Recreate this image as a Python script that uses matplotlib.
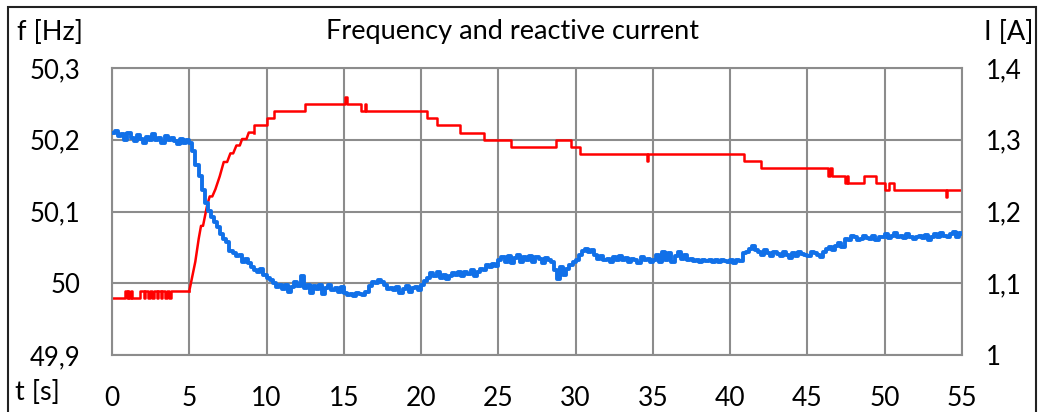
import numpy as np
import matplotlib.pyplot as plt
from matplotlib.patches import Rectangle

plt.rcParams['font.family'] = ['Lato', 'DejaVu Sans']

# frequency, one sample every 0.2 s, stored as offset from 50 Hz in mHz
f_dt = 0.2
f_dev_mhz = [
    210, 212, 205, 208, 200, 210, 203, 198, 207, 201,   # 0-2 s
    195, 204, 200, 208, 199, 202, 196, 205, 200, 203,   # 2-4 s
    198, 194, 201, 196, 199,                             # 4-5 s
    195, 185, 165, 150, 130, 112, 100, 92, 85, 78,       # 5-7 s
    68, 62, 58, 45, 42, 38, 40, 30, 34, 28,              # 7-9 s
    22, 18, 15, 20, 12,                                  # 9-10 s
    8, 4, 0, -5, -2, -8, -3, -12, -5, 2,                 # 10-12 s
    -4, 10, -6, -2, -14, -4, -8, -3, -15, -6,            # 12-14 s
    -3, -10, -6, -12, -5,                                # 14-15 s
    -14, -16, -15, -18, -14, -15, -16, -12, -4, 2,       # 15-17 s
    0, 5, 2, -3, -8, -6, -10, -5, -14, -8,               # 17-19 s
    -4, -12, -7, -5, -10,                                # 19-20 s
    -2, 3, 8, 14, 10, 15, 8, 12, 6, 10,                  # 20-22 s
    14, 12, 16, 10, 15, 13, 18, 10, 16, 20,              # 22-24 s
    18, 25, 22, 27, 24,                                  # 24-25 s
    32, 36, 30, 38, 28, 35, 40, 30, 36, 33,              # 25-27 s
    38, 30, 36, 34, 28, 35, 32, 30, 18, 6,               # 27-29 s
    22, 12, 20, 26, 30,                                  # 29-30 s
    32, 40, 45, 48, 44, 46, 40, 34, 38, 32,              # 30-32 s
    34, 30, 36, 33, 38, 32, 35, 30, 34, 33,              # 32-34 s
    28, 36, 32, 34, 30,                                  # 34-35 s
    33, 40, 30, 44, 32, 42, 30, 38, 44, 34,              # 35-37 s
    40, 32, 34, 31, 33, 30, 32, 31, 33, 30,              # 37-39 s
    32, 29, 33, 31, 30,                                  # 39-40 s
    32, 28, 33, 31, 42, 44, 48, 52, 46, 44,              # 40-42 s
    40, 46, 42, 38, 44, 41, 38, 44, 40, 35,              # 42-44 s
    42, 38, 44, 41, 40,                                  # 44-45 s
    38, 44, 42, 40, 37, 44, 48, 50, 46, 52,              # 45-47 s
    56, 50, 62, 60, 66, 64, 60, 62, 66, 63,              # 47-49 s
    62, 66, 60, 64, 65,                                  # 49-50 s
    68, 63, 66, 70, 64, 66, 63, 68, 65, 62,              # 50-52 s
    64, 66, 63, 67, 60, 65, 68, 64, 70, 66,              # 52-54 s
    64, 68, 72, 65, 70, 68,                              # 54-55 s
]

# reactive current: noisy start (steps), ramp (polyline), then steps
i_start_t = [0.0, 0.87, 0.95, 1.05, 1.13, 1.25, 1.32, 1.80, 2.05, 2.13, 2.35, 2.43,
             2.62, 2.70, 2.90, 2.98, 3.18, 3.26, 3.45, 3.53, 3.72, 3.80, 5.0]
i_start_v = [1.080, 1.089, 1.080, 1.089, 1.080, 1.089, 1.080, 1.089, 1.080, 1.089, 1.080, 1.089,
             1.080, 1.089, 1.080, 1.089, 1.080, 1.089, 1.080, 1.089, 1.080, 1.089, 1.089]

i_ramp_t = [5.0, 5.39, 5.61, 5.76, 5.89, 6.15, 6.32, 6.49, 6.69, 6.97, 7.23, 7.45,
            7.66, 7.84, 8.05, 8.27, 8.42, 8.70, 8.85, 9.18]
i_ramp_v = [1.089, 1.130, 1.162, 1.180, 1.180, 1.208, 1.221, 1.221, 1.231, 1.249, 1.269, 1.269,
            1.281, 1.281, 1.292, 1.292, 1.301, 1.301, 1.310, 1.310]

i_hold_t = [9.18, 9.2, 10.0, 10.5, 12.5, 15.1, 15.2, 16.1, 16.35, 16.45, 20.4, 21.0, 22.5,
            24.1, 25.8, 28.7, 29.7, 30.3, 34.6, 34.7, 40.9, 42.0, 46.3, 46.45, 46.6,
            47.45, 47.55, 47.65, 48.65, 49.45, 50.0, 50.25, 50.6, 53.95, 54.05, 55.0]
i_hold_v = [1.31, 1.32, 1.33, 1.34, 1.35, 1.36, 1.35, 1.34, 1.35, 1.34, 1.33, 1.32, 1.31,
            1.30, 1.29, 1.30, 1.29, 1.28, 1.27, 1.28, 1.27, 1.26, 1.25, 1.26, 1.25,
            1.24, 1.25, 1.24, 1.25, 1.24, 1.23, 1.24, 1.23, 1.22, 1.23, 1.23]

t_ticks = list(range(0, 56, 5))
f_ticks = [49.9, 50.0, 50.1, 50.2, 50.3]
f_labels = ['49,9', '50', '50,1', '50,2', '50,3']
i_ticks = [1.0, 1.1, 1.2, 1.3, 1.4]
i_labels = ['1', '1,1', '1,2', '1,3', '1,4']

W, H = 1044, 412
fig = plt.figure(figsize=(W / 100, H / 100), dpi=100)
ax = fig.add_axes([112 / W, 57 / H, 850 / W, 287 / H])
ax2 = ax.twinx()
# frequency drawn above current
ax.set_zorder(ax2.get_zorder() + 1)
ax.patch.set_visible(False)

grid_c = '#8c8c8c'
freq = 50 + np.array(f_dev_mhz) / 1000.0
t_freq = np.arange(len(freq)) * f_dt

red = '#ff0000'
ax2.plot(i_start_t, i_start_v, color=red, lw=1.8, drawstyle='steps-post')
ax2.plot(i_ramp_t, i_ramp_v, color=red, lw=1.8)
ax2.plot(i_hold_t, i_hold_v, color=red, lw=1.8, drawstyle='steps-post')
ax.plot(t_freq, freq, color='#1170e8', lw=2.8, drawstyle='steps-post')

ax.set_xlim(0, 55)
ax.set_ylim(49.9, 50.3)
ax2.set_ylim(1.0, 1.4)
ax.set_xticks(t_ticks)
ax.set_yticks(f_ticks)
ax.set_yticklabels(f_labels)
ax2.set_yticks(i_ticks)
ax2.set_yticklabels(i_labels)

# grid lives on the lower axes so the red line sits on top of it
ax2.xaxis.set_visible(True)
ax2.tick_params(axis='x', length=0, labelbottom=False, labeltop=False)
ax2.grid(True, which='major', axis='both', color=grid_c, lw=1.5)
ax.grid(False)
for s in ax.spines.values():
    s.set_visible(False)
for s in ax2.spines.values():
    s.set_color(grid_c)
    s.set_linewidth(1.5)

ax.tick_params(axis='x', length=0, labelsize=19, pad=22)
ax.tick_params(axis='y', length=0, labelsize=18.5, pad=23)
ax2.tick_params(axis='y', length=0, labelsize=18.5, pad=17)

fig.text(17 / W, 1 - 32 / H, 'f [Hz]', fontsize=19.5, ha='left', va='center')
fig.text(513 / W, 1 - 32 / H, 'Frequency and reactive current', fontsize=19.5,
         ha='center', va='center')
fig.text(1034 / W, 1 - 32 / H, 'I [A]', fontsize=19.5, ha='right', va='center')
fig.text(15 / W, 1 - 393 / H, 't [s]', fontsize=19.5, ha='left', va='center')

fig.add_artist(Rectangle((8 / W, -0.05), (1036 - 8) / W, 1 - 7 / H + 0.05,
                         transform=fig.transFigure, fill=False, ec='#222222', lw=1.5))

fig.savefig('out.png', dpi=100)
